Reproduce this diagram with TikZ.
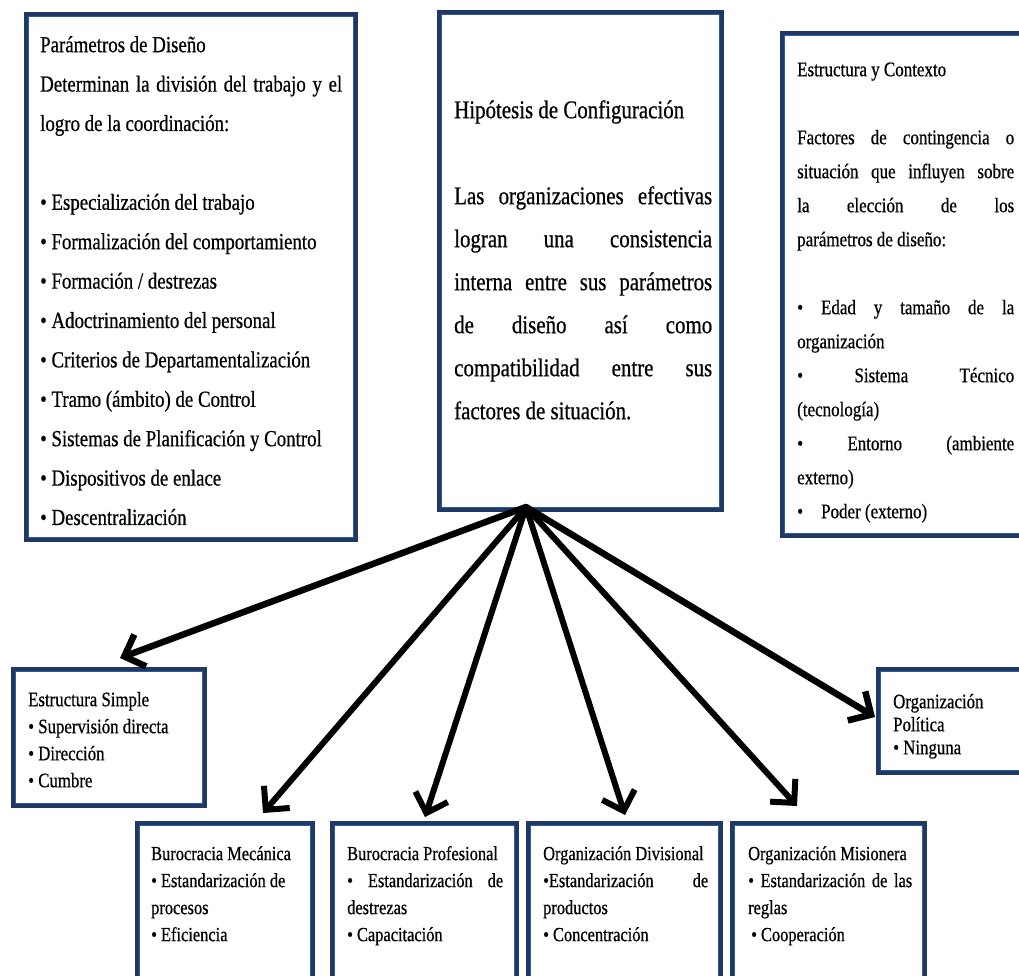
\documentclass[tikz,border=0pt]{standalone}
\usepackage{fontspec}
\setmainfont{Liberation Serif}[FakeStretch=0.82, FakeBold=0.6]
\usetikzlibrary{arrows.meta}
\definecolor{navy}{RGB}{31,56,100}
\definecolor{rimblue}{RGB}{46,92,154}
\hyphenpenalty=10000
\exhyphenpenalty=10000
\tolerance=10000
\hbadness=10000
\begin{document}
\begin{tikzpicture}[x=1pt,y=-1pt,
  boxframe/.style={draw=navy, line width=4.5pt, fill=white, inner sep=0pt, anchor=north west},
  rim/.style={draw=rimblue, line width=1.2pt},
  txt/.style={anchor=north west, inner sep=0pt, align=justify},
  arr/.style={line width=6pt, line cap=round, -{Straight Barb[length=17pt,width=34pt]}},
  arrthick/.style={arr, line width=6.5pt},
]
\useasboundingbox (0,0) rectangle (1019,975);
\clip (0,0) rectangle (1019,975);

% boxes
\node[boxframe, minimum width=329.5pt, minimum height=525.5pt] (b1) at (24,12) {};
\node[boxframe, minimum width=282.5pt, minimum height=497.5pt] (b2) at (437,10) {};
\node[boxframe, minimum width=250.5pt, minimum height=502.5pt] (b3) at (780,31) {};
\node[boxframe, minimum width=191.5pt, minimum height=136.5pt] (es) at (11,667) {};
\node[boxframe, minimum width=175.5pt, minimum height=170pt] (bm) at (135,821) {};
\node[boxframe, minimum width=184.5pt, minimum height=170pt] (bp) at (330,821) {};
\node[boxframe, minimum width=192.5pt, minimum height=170pt] (od) at (526,821) {};
\node[boxframe, minimum width=192.5pt, minimum height=170pt] (om) at (730,821) {};
\node[boxframe, minimum width=155pt, minimum height=103.5pt] (pol) at (876,667) {};
\foreach \b in {b1,b2,b3,es,bm,bp,od,om,pol}
  \draw[rim] ([shift={(4.6,4.6)}]\b.north west) rectangle ([shift={(-4.6,-4.6)}]\b.south east);

% texts
\node[txt, text width=302pt, font={\fontsize{23}{39.4}\selectfont\parindent=0pt}] (t1) at (40,24.4) {%
\strut Parámetros de Diseño\\
Determinan la división del trabajo y el\linebreak logro de la coordinación:\\[\baselineskip]
• Especialización del trabajo\\
• Formalización del comportamiento\\
• Formación / destrezas\\
• Adoctrinamiento del personal\\
• Criterios de Departamentalización\\
• Tramo (ámbito) de Control\\
• Sistemas de Planificación y Control\\
• Dispositivos de enlace\\
• Descentralización};

\node[txt, text width=258pt, font={\fontsize{25.5}{43}\selectfont\parindent=0pt}] (t2) at (454,87.9) {%
\strut Hipótesis de Configuración\\[\baselineskip]
Las organizaciones efectivas\linebreak logran una consistencia\linebreak interna entre sus parámetros\linebreak de diseño así como\linebreak compatibilidad entre sus\linebreak factores de situación.};

\node[txt, text width=217pt, font={\fontsize{20.7}{34}\selectfont\parindent=0pt}] (t3) at (797,52.2) {%
\strut Estructura y Contexto\\[\baselineskip]
Factores de contingencia o\linebreak situación que influyen sobre\linebreak la elección de los\linebreak parámetros de diseño:\\[\baselineskip]
• Edad y tamaño de la\linebreak organización\\
• Sistema Técnico\linebreak (tecnología)\\
• Entorno (ambiente\linebreak externo)\\
•\hspace{18pt}Poder (externo)};

\node[txt, text width=170pt, font={\fontsize{20.5}{27}\selectfont\parindent=0pt}] (tes) at (28,687.1) {%
\strut Estructura Simple\\
• Supervisión directa\\
• Dirección\\
• Cumbre};

\node[txt, text width=160pt, font={\fontsize{20}{27}\selectfont\parindent=0pt}] (tbm) at (151,841) {%
\strut Burocracia Mecánica\\
• Estandarización de\\
procesos\\
• Eficiencia};

\node[txt, text width=156pt, font={\fontsize{20}{27}\selectfont\parindent=0pt}] (tbp) at (347,841) {%
\strut Burocracia Profesional\\
• Estandarización de\linebreak destrezas\\
• Capacitación};

\node[txt, text width=165pt, font={\fontsize{20}{27}\selectfont\parindent=0pt}] (tod) at (543,841) {%
\strut Organización Divisional\\
•Estandarización de\linebreak productos\\
• Concentración};

\node[txt, text width=164pt, font={\fontsize{20}{27}\selectfont\parindent=0pt}] (tom) at (748,841) {%
\strut Organización Misionera\\
• Estandarización de las\linebreak reglas\\
\hspace*{3pt}• Cooperación};

\node[txt, text width=120pt, font={\fontsize{20.5}{23}\selectfont\parindent=0pt}] (tpol) at (893,691.9) {%
\strut Organización\\
Política\\
• Ninguna};

% connectors
\coordinate (apex) at ([xshift=-54.5pt,yshift=5pt]b2.south);
\coordinate (tipes) at ([xshift=11pt,yshift=9pt]es.north);
\coordinate (tipbm) at ([xshift=38pt,yshift=8pt]bm.north);
\coordinate (tipbp) at ([xshift=0.5pt,yshift=4pt]bp.north);
\coordinate (tipod) at ([xshift=0.5pt,yshift=6pt]od.north);
\coordinate (tipom) at ([xshift=-31.5pt,yshift=15pt]om.north);
\coordinate (tippol) at ([xshift=-1pt,yshift=4pt]pol.west);

\draw[arrthick] (apex) -- (tipes);
\draw[arr] (apex) -- (tipbm);
\draw[arr] (apex) -- (tipbp);
\draw[arr] (apex) -- (tipod);
\draw[arr] (apex) -- (tipom);
\draw[arrthick] (apex) -- (tippol);
\end{tikzpicture}
\end{document}
